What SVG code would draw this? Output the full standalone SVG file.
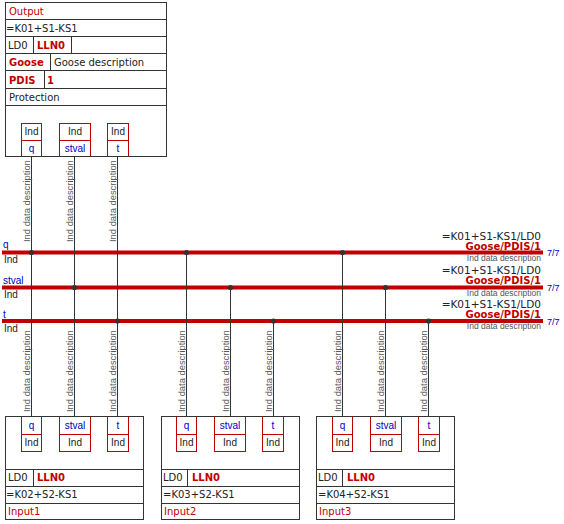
<svg xmlns="http://www.w3.org/2000/svg" width="564" height="524" viewBox="0 0 564 524">
<style>
.bx{fill:#fff;stroke:#333;stroke-width:1}
.ln{stroke:#333;stroke-width:1;fill:none}
.rb{fill:#fff;stroke:#c00000;stroke-width:1}
.rl{stroke:#c00000;stroke-width:1}
.t{font-family:"DejaVu Sans",sans-serif;font-size:10px;fill:#222}
.tr{font-family:"DejaVu Sans",sans-serif;font-size:10px;fill:#c00000}
.tb{font-family:"DejaVu Sans",sans-serif;font-size:10px;font-weight:bold;fill:#c00000}
.s{font-family:"Liberation Sans",sans-serif;font-size:10px;fill:#222;text-anchor:middle}
.sb{font-family:"Liberation Sans",sans-serif;font-size:10px;fill:#0000c0;text-anchor:middle}
.bl{font-family:"Liberation Sans",sans-serif;font-size:10px;fill:#0000c0}
.bk{font-family:"Liberation Sans",sans-serif;font-size:10px;fill:#222}
.d{font-family:"Liberation Sans",sans-serif;font-size:9.4px;fill:#555}
.rt{font-family:"DejaVu Sans",sans-serif;font-size:10.5px;fill:#222;text-anchor:end}
.rg{font-family:"DejaVu Sans",sans-serif;font-size:10px;font-weight:bold;fill:#c00000;text-anchor:end}
.rs{font-family:"Liberation Sans",sans-serif;font-size:8.5px;fill:#555;text-anchor:end}
.n{font-family:"Liberation Sans",sans-serif;font-size:9px;fill:#0000c0}
.bus{stroke:#c00000;stroke-width:4}
.dot{fill:#333}
</style>

<g id="connectors">
  <line class="bus" x1="2" y1="252.5" x2="543" y2="252.5"/>
  <line class="bus" x1="2" y1="287.5" x2="543" y2="287.5"/>
  <line class="bus" x1="2" y1="321" x2="543" y2="321"/>
  <line class="ln" x1="31.5" y1="157" x2="31.5" y2="416"/>
  <line class="ln" x1="74.5" y1="157" x2="74.5" y2="416"/>
  <line class="ln" x1="117.5" y1="157" x2="117.5" y2="416"/>
  <line class="ln" x1="186.5" y1="252.5" x2="186.5" y2="416"/>
  <line class="ln" x1="230.5" y1="287.5" x2="230.5" y2="416"/>
  <line class="ln" x1="273.5" y1="321" x2="273.5" y2="416"/>
  <line class="ln" x1="342.5" y1="252.5" x2="342.5" y2="416"/>
  <line class="ln" x1="385.5" y1="287.5" x2="385.5" y2="416"/>
  <line class="ln" x1="428.5" y1="321" x2="428.5" y2="416"/>
  <path class="ln" d="M29 179.5H31.5M72 179.5H74.5M115 179.5H117.5M29 349.5H31.5M72 349.5H74.5M115 349.5H117.5M184 349.5H186.5M228 349.5H230.5M271 349.5H273.5M340 349.5H342.5M383 349.5H385.5M426 349.5H428.5"/>
  <circle class="dot" cx="31.5" cy="252.5" r="2.6"/>
  <circle class="dot" cx="186.5" cy="252.5" r="2.6"/>
  <circle class="dot" cx="342.5" cy="252.5" r="2.6"/>
  <circle class="dot" cx="74.5" cy="287.5" r="2.6"/>
  <circle class="dot" cx="230.5" cy="287.5" r="2.6"/>
  <circle class="dot" cx="385.5" cy="287.5" r="2.6"/>
  <circle class="dot" cx="117.5" cy="321" r="2.6"/>
  <circle class="dot" cx="273.5" cy="321" r="2.6"/>
  <circle class="dot" cx="428.5" cy="321" r="2.6"/>
  <text class="d" transform="translate(30,242) rotate(-90)">Ind data description</text>
  <text class="d" transform="translate(73,242) rotate(-90)">Ind data description</text>
  <text class="d" transform="translate(116,242) rotate(-90)">Ind data description</text>
  <text class="d" transform="translate(30,412) rotate(-90)">Ind data description</text>
  <text class="d" transform="translate(73,412) rotate(-90)">Ind data description</text>
  <text class="d" transform="translate(116,412) rotate(-90)">Ind data description</text>
  <text class="d" transform="translate(185,412) rotate(-90)">Ind data description</text>
  <text class="d" transform="translate(229,412) rotate(-90)">Ind data description</text>
  <text class="d" transform="translate(272,412) rotate(-90)">Ind data description</text>
  <text class="d" transform="translate(341,412) rotate(-90)">Ind data description</text>
  <text class="d" transform="translate(384,412) rotate(-90)">Ind data description</text>
  <text class="d" transform="translate(427,412) rotate(-90)">Ind data description</text>
  <text class="bl" x="3" y="248">q</text>
  <text class="bk" x="4" y="263">Ind</text>
  <text class="bl" x="3" y="284">stval</text>
  <text class="bk" x="4" y="298">Ind</text>
  <text class="bl" x="3" y="318">t</text>
  <text class="bk" x="4" y="332">Ind</text>
  <text class="rt" x="541" y="239.5">=K01+S1-KS1/LD0</text>
  <text class="rg" x="541" y="249.5">Goose/PDIS/1</text>
  <text class="rs" x="541" y="261">Ind data description</text>
  <text class="n" x="547" y="256">7/7</text>
  <text class="rt" x="541" y="274">=K01+S1-KS1/LD0</text>
  <text class="rg" x="541" y="284">Goose/PDIS/1</text>
  <text class="rs" x="541" y="295.5">Ind data description</text>
  <text class="n" x="547" y="291">7/7</text>
  <text class="rt" x="541" y="307.5">=K01+S1-KS1/LD0</text>
  <text class="rg" x="541" y="317.5">Goose/PDIS/1</text>
  <text class="rs" x="541" y="329">Ind data description</text>
  <text class="n" x="547" y="324.5">7/7</text>
</g>

<g id="output">
  <rect class="bx" x="5.5" y="2.5" width="161" height="154"/>
  <path class="ln" d="M5.5 19.5H166.5M5.5 36.5H166.5M5.5 53.5H166.5M5.5 70.5H166.5M5.5 88.5H166.5M5.5 105.5H166.5M33.5 36.5V53.5M71.5 36.5V53.5M50.5 53.5V70.5M44.5 70.5V88.5"/>
  <text class="tr" x="9" y="14.5">Output</text>
  <text class="t" x="6" y="32">=K01+S1-KS1</text>
  <text class="t" x="8" y="49">LD0</text>
  <text class="tb" x="37" y="49">LLN0</text>
  <text class="tb" x="9" y="66">Goose</text>
  <text class="t" x="54" y="66">Goose description</text>
  <text class="tb" x="9" y="83.5">PDIS</text>
  <text class="tb" x="47" y="83.5">1</text>
  <text class="t" x="9" y="101">Protection</text>
  <rect class="rb" x="21.5" y="123.5" width="20" height="33"/>
  <rect class="rb" x="59.5" y="123.5" width="31" height="33"/>
  <rect class="rb" x="107.5" y="123.5" width="21" height="33"/>
  <path class="rl" d="M21.5 140.5H41.5M59.5 140.5H90.5M107.5 140.5H128.5"/>
  <path class="ln" d="M5.5 156.5H166.5"/>
  <text class="s" x="31.5" y="135">Ind</text>
  <text class="s" x="75" y="135">Ind</text>
  <text class="s" x="118" y="135">Ind</text>
  <text class="sb" x="31.5" y="152">q</text>
  <text class="sb" x="75" y="152">stval</text>
  <text class="sb" x="118" y="152">t</text>
</g>

<g id="input1">
  <rect class="bx" x="5.5" y="416.5" width="138" height="103"/>
  <path class="ln" d="M5.5 469.5H143.5M5.5 486.5H143.5M5.5 503.5H143.5M33.5 469.5V486.5"/>
  <rect class="rb" x="21.5" y="416.5" width="20" height="35"/>
  <rect class="rb" x="59.5" y="416.5" width="31" height="35"/>
  <rect class="rb" x="107.5" y="416.5" width="21" height="35"/>
  <path class="rl" d="M21.5 434.5H41.5M59.5 434.5H90.5M107.5 434.5H128.5"/>
  <path class="ln" d="M5.5 416.5H143.5"/>
  <text class="sb" x="31.5" y="429">q</text>
  <text class="sb" x="75" y="429">stval</text>
  <text class="sb" x="118" y="429">t</text>
  <text class="s" x="31.5" y="446">Ind</text>
  <text class="s" x="75" y="446">Ind</text>
  <text class="s" x="118" y="446">Ind</text>
  <text class="t" x="8" y="481">LD0</text>
  <text class="tb" x="37" y="481">LLN0</text>
  <text class="t" x="6" y="498">=K02+S2-KS1</text>
  <text class="tr" x="8" y="515">Input1</text>
</g>

<g id="input2">
  <rect class="bx" x="161.5" y="416.5" width="138" height="103"/>
  <path class="ln" d="M161.5 469.5H299.5M161.5 486.5H299.5M161.5 503.5H299.5M187.5 469.5V486.5"/>
  <rect class="rb" x="176.5" y="416.5" width="20" height="35"/>
  <rect class="rb" x="214.5" y="416.5" width="31" height="35"/>
  <rect class="rb" x="262.5" y="416.5" width="21" height="35"/>
  <path class="rl" d="M176.5 434.5H196.5M214.5 434.5H245.5M262.5 434.5H283.5"/>
  <path class="ln" d="M161.5 416.5H299.5"/>
  <text class="sb" x="186.5" y="429">q</text>
  <text class="sb" x="230" y="429">stval</text>
  <text class="sb" x="273" y="429">t</text>
  <text class="s" x="186.5" y="446">Ind</text>
  <text class="s" x="230" y="446">Ind</text>
  <text class="s" x="273" y="446">Ind</text>
  <text class="t" x="163" y="481">LD0</text>
  <text class="tb" x="192" y="481">LLN0</text>
  <text class="t" x="163" y="498">=K03+S2-KS1</text>
  <text class="tr" x="164" y="515">Input2</text>
</g>

<g id="input3">
  <rect class="bx" x="316.5" y="416.5" width="138" height="103"/>
  <path class="ln" d="M316.5 469.5H454.5M316.5 486.5H454.5M316.5 503.5H454.5M342.5 469.5V486.5"/>
  <rect class="rb" x="332.5" y="416.5" width="20" height="35"/>
  <rect class="rb" x="370.5" y="416.5" width="31" height="35"/>
  <rect class="rb" x="418.5" y="416.5" width="21" height="35"/>
  <path class="rl" d="M332.5 434.5H352.5M370.5 434.5H401.5M418.5 434.5H439.5"/>
  <path class="ln" d="M316.5 416.5H454.5"/>
  <text class="sb" x="342.5" y="429">q</text>
  <text class="sb" x="386" y="429">stval</text>
  <text class="sb" x="429" y="429">t</text>
  <text class="s" x="342.5" y="446">Ind</text>
  <text class="s" x="386" y="446">Ind</text>
  <text class="s" x="429" y="446">Ind</text>
  <text class="t" x="318" y="481">LD0</text>
  <text class="tb" x="347" y="481">LLN0</text>
  <text class="t" x="318" y="498">=K04+S2-KS1</text>
  <text class="tr" x="319" y="515">Input3</text>
</g>
</svg>
